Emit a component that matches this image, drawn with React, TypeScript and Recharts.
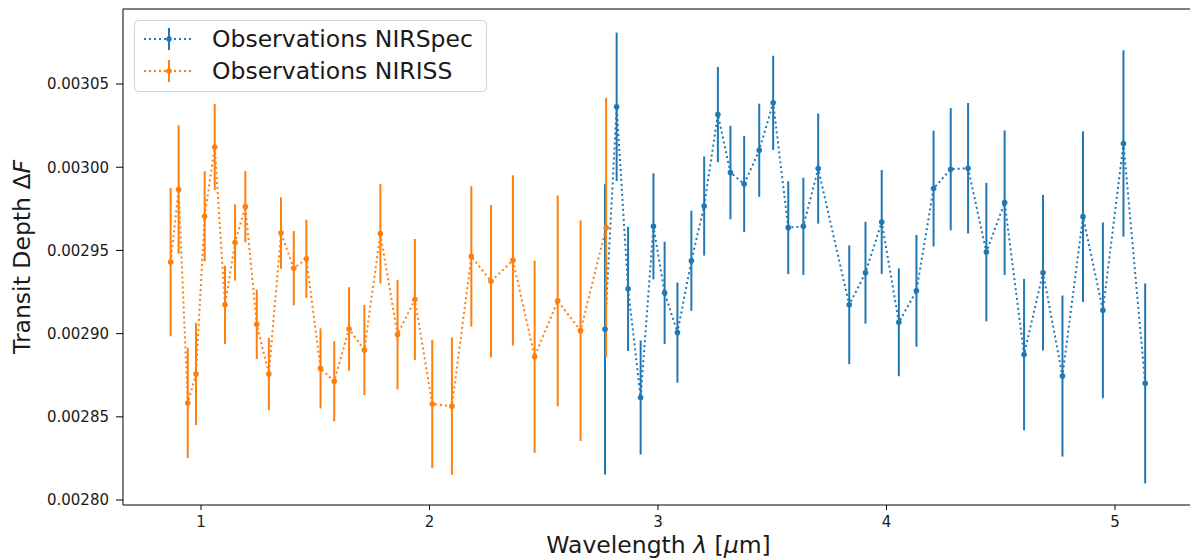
import React from 'react';
import { LineChart, Line, XAxis, YAxis, ErrorBar, Legend, ReferenceLine } from 'recharts';

// NIRISS (orange)
const nirissWavelength = [0.867, 0.902, 0.942, 0.978, 1.016, 1.060, 1.105, 1.149, 1.194, 1.244, 1.297, 1.350, 1.406, 1.461, 1.523, 1.583, 1.648, 1.715, 1.785, 1.860, 1.936, 2.012, 2.098, 2.183, 2.269, 2.365, 2.460, 2.561, 2.661, 2.773];
const nirissDepth = [0.0029430, 0.0029866, 0.0028583, 0.0028757, 0.0029705, 0.0030122, 0.0029173, 0.0029548, 0.0029763, 0.0029056, 0.0028757, 0.0029604, 0.0029393, 0.0029450, 0.0028791, 0.0028713, 0.0029028, 0.0028902, 0.0029601, 0.0028994, 0.0029205, 0.0028577, 0.0028564, 0.0029464, 0.0029315, 0.0029440, 0.0028861, 0.0029197, 0.0029018, 0.0029637];
const nirissErr = [4.46e-5, 3.86e-5, 3.31e-5, 3.07e-5, 2.71e-5, 2.59e-5, 2.35e-5, 2.29e-5, 2.14e-5, 2.09e-5, 2.17e-5, 2.15e-5, 2.23e-5, 2.35e-5, 2.41e-5, 2.41e-5, 2.51e-5, 2.71e-5, 2.99e-5, 3.29e-5, 3.64e-5, 3.86e-5, 4.13e-5, 4.22e-5, 4.58e-5, 5.12e-5, 5.78e-5, 6.33e-5, 6.63e-5, 7.8e-5];

// NIRSpec (blue)
const nirspecWavelength = [2.768, 2.819, 2.869, 2.924, 2.980, 3.029, 3.085, 3.146, 3.202, 3.262, 3.317, 3.377, 3.443, 3.504, 3.570, 3.636, 3.701, 3.837, 3.908, 3.979, 4.054, 4.131, 4.206, 4.281, 4.357, 4.437, 4.517, 4.602, 4.685, 4.770, 4.860, 4.947, 5.037, 5.132];
const nirspecDepth = [0.0029026, 0.0030363, 0.0029269, 0.0028616, 0.0029645, 0.0029245, 0.0029006, 0.0029438, 0.0029767, 0.0030317, 0.0029968, 0.0029899, 0.0030102, 0.0030387, 0.0029637, 0.0029645, 0.0029992, 0.0029173, 0.0029366, 0.0029671, 0.0029068, 0.0029257, 0.0029872, 0.0029988, 0.0029994, 0.0029490, 0.0029787, 0.0028874, 0.0029366, 0.0028745, 0.0029703, 0.0029140, 0.0030143, 0.0028701];
const nirspecErr = [8.72e-5, 4.46e-5, 3.73e-5, 3.43e-5, 3.19e-5, 3.07e-5, 3.01e-5, 3.01e-5, 2.98e-5, 2.86e-5, 2.81e-5, 2.89e-5, 2.8e-5, 2.83e-5, 2.79e-5, 2.92e-5, 3.31e-5, 3.57e-5, 3.06e-5, 3.12e-5, 3.24e-5, 3.36e-5, 3.48e-5, 3.67e-5, 3.92e-5, 4.16e-5, 4.34e-5, 4.55e-5, 4.68e-5, 4.84e-5, 5.13e-5, 5.28e-5, 5.6e-5, 6.01e-5];

const seriesNames = ['Observations NIRSpec', 'Observations NIRISS'];
const xTicks = [1, 2, 3, 4, 5];
const yTicks = [0.0028, 0.00285, 0.0029, 0.00295, 0.003, 0.00305];
const X_DOMAIN: [number, number] = [0.6586, 5.3457];
const Y_DOMAIN: [number, number] = [0.002797, 0.0030951];

const BLUE = '#1f77b4';
const ORANGE = '#ff7f0e';
const FONT = '"DejaVu Sans", sans-serif';
const DOTS = '2 3';

const toRows = (xs: number[], ys: number[], es: number[]) =>
    xs.map((x, i) => ({ x, y: ys[i], err: es[i] }));

const nirspecRows = toRows(nirspecWavelength, nirspecDepth, nirspecErr);
const nirissRows = toRows(nirissWavelength, nirissDepth, nirissErr);

const renderLegend = (props: any) => {
    const items = [...(props.payload || [])].sort(
        (a: any, b: any) => seriesNames.indexOf(a.value) - seriesNames.indexOf(b.value)
    );
    return (
        <svg width={354} height={73} style={{ display: 'block' }}>
            <rect x={0.5} y={0.5} width={352} height={71} rx={4} fill="rgba(255,255,255,0.8)" stroke="#d3d3d3" />
            {items.map((p: any, i: number) => {
                const cy = 19 + i * 32;
                return (
                    <g key={p.value}>
                        <line x1={10} y1={cy} x2={57} y2={cy} stroke={p.color} strokeWidth={2} strokeDasharray={DOTS} />
                        <line x1={35} y1={cy - 11} x2={35} y2={cy + 11} stroke={p.color} strokeWidth={2} />
                        <circle cx={35} cy={cy} r={2.8} fill={p.color} />
                        <text x={78} y={cy} dy="0.36em" fontSize={23.5} fill="#1a1a1a" fontFamily={FONT}>{p.value}</text>
                    </g>
                );
            })}
        </svg>
    );
};

const YLabel = (props: any) => {
    const vb = props.viewBox || { y: 9, height: 496 };
    const cy = vb.y + vb.height / 2;
    return (
        <text x={30} y={cy} transform={`rotate(-90, 30, ${cy})`} textAnchor="middle" fontSize={23.5} fill="#1a1a1a" fontFamily={FONT}>
            Transit Depth Δ<tspan fontStyle="italic">F</tspan>
        </text>
    );
};

const XLabel = (props: any) => {
    const vb = props.viewBox || { x: 123, y: 505, width: 1071 };
    return (
        <text x={vb.x + vb.width / 2} y={vb.y + 48} textAnchor="middle" fontSize={23.5} fill="#1a1a1a" fontFamily={FONT}>
            Wavelength <tspan fontStyle="italic">λ</tspan> [<tspan fontStyle="italic">μ</tspan>m]
        </text>
    );
};

export default function App() {
    const tickStyle = { fontSize: 15, fill: '#1a1a1a', fontFamily: FONT };
    return (
        <div style={{ position: 'fixed', left: 0, top: 0, width: 1190, height: 558, overflow: 'hidden', background: '#fff' }}>
            <LineChart width={1200} height={558} margin={{ top: 9, right: 6, bottom: 0, left: 0 }}>
                <XAxis
                    type="number"
                    dataKey="x"
                    domain={X_DOMAIN}
                    allowDataOverflow
                    ticks={xTicks}
                    height={53}
                    tickSize={5}
                    tickMargin={6}
                    tick={tickStyle}
                    stroke="#000"
                    label={<XLabel />}
                />
                <YAxis
                    type="number"
                    domain={Y_DOMAIN}
                    allowDataOverflow
                    ticks={yTicks}
                    width={123}
                    tickSize={7}
                    tickMargin={7}
                    tick={tickStyle}
                    tickFormatter={(v: number) => v.toFixed(5)}
                    stroke="#000"
                    label={<YLabel />}
                />
                {/* top spine */}
                <ReferenceLine y={Y_DOMAIN[1]} stroke="#000" strokeWidth={1} ifOverflow="extendDomain" />
                <Legend
                    content={renderLegend}
                    layout="horizontal"
                    align="center"
                    verticalAlign="middle"
                    wrapperStyle={{ left: 134, top: 20, width: 354, height: 73 }}
                />
                <Line
                    name={seriesNames[0]}
                    data={nirspecRows}
                    dataKey="y"
                    stroke={BLUE}
                    strokeWidth={2}
                    strokeDasharray={DOTS}
                    dot={{ r: 2.8, fill: BLUE, stroke: BLUE, strokeWidth: 0 }}
                    activeDot={false}
                    isAnimationActive={false}
                >
                    <ErrorBar dataKey="err" width={0} stroke={BLUE} strokeWidth={2} direction="y" isAnimationActive={false} />
                </Line>
                <Line
                    name={seriesNames[1]}
                    data={nirissRows}
                    dataKey="y"
                    stroke={ORANGE}
                    strokeWidth={2}
                    strokeDasharray={DOTS}
                    dot={{ r: 2.8, fill: ORANGE, stroke: ORANGE, strokeWidth: 0 }}
                    activeDot={false}
                    isAnimationActive={false}
                >
                    <ErrorBar dataKey="err" width={0} stroke={ORANGE} strokeWidth={2} direction="y" isAnimationActive={false} />
                </Line>
            </LineChart>
        </div>
    );
}
